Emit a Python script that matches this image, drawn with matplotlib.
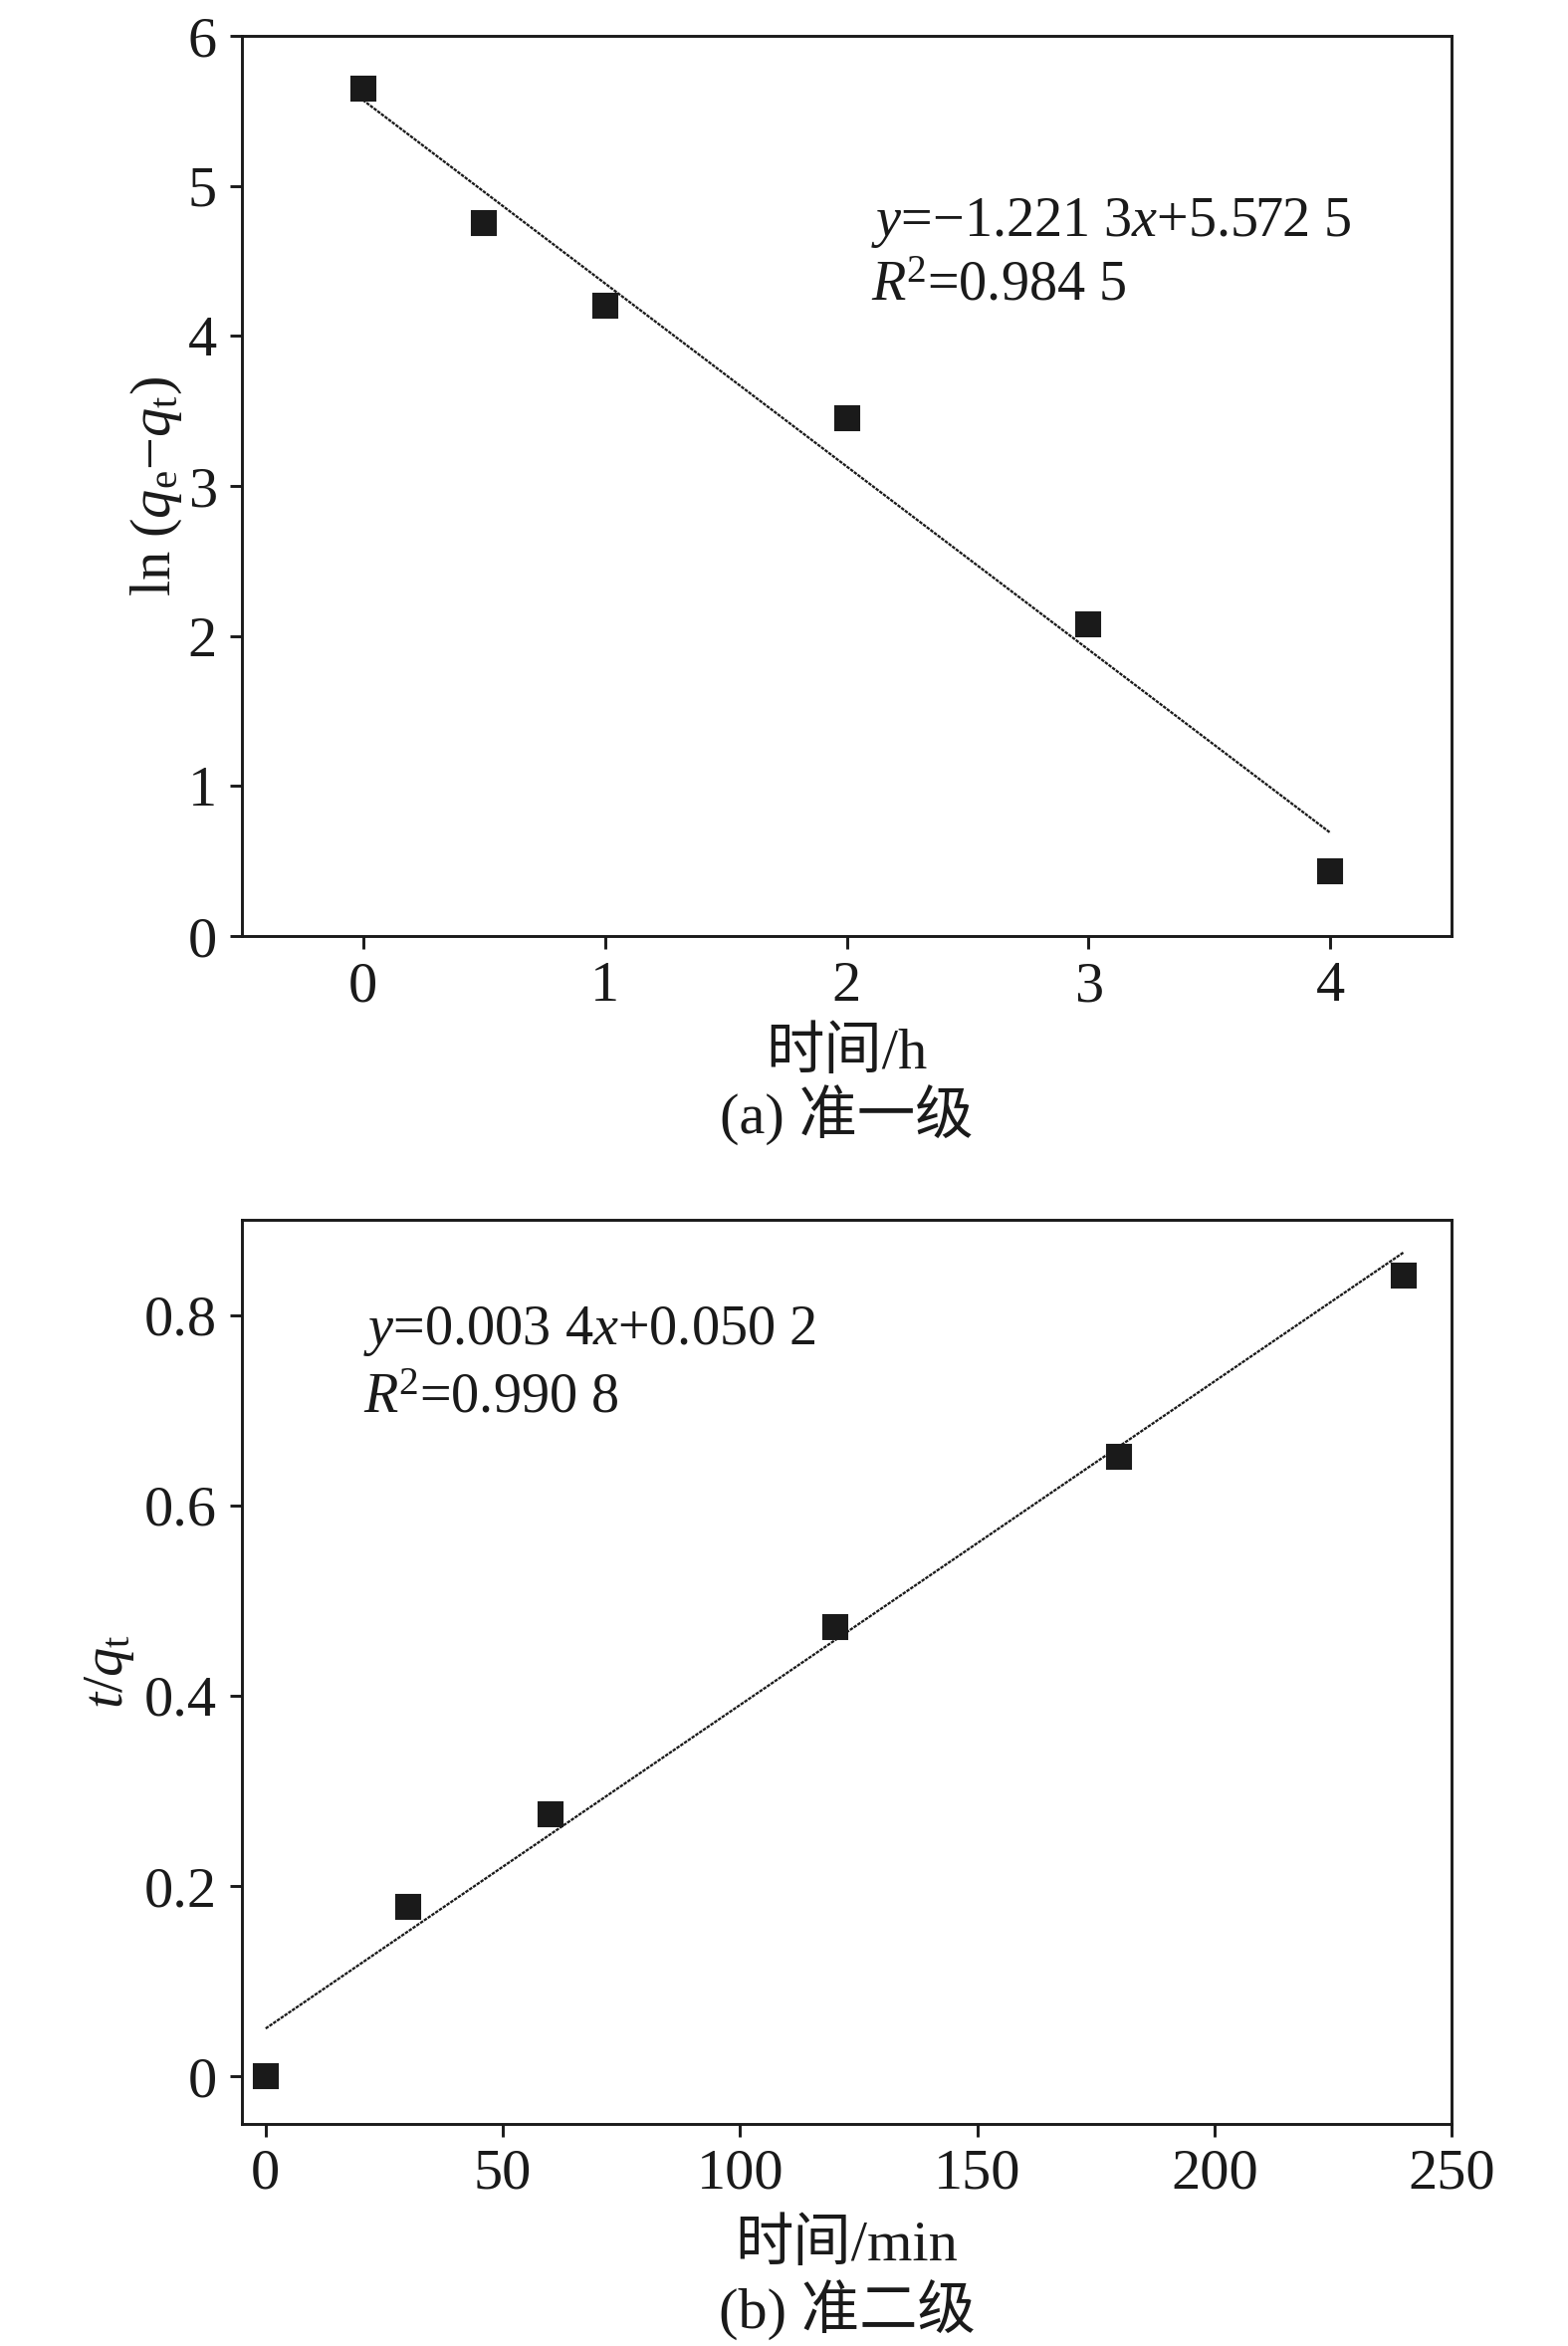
import numpy as np
import matplotlib
matplotlib.use('Agg')
import matplotlib.pyplot as plt

plt.rcParams['font.family'] = ['Liberation Serif', 'Noto Sans CJK SC']
plt.rcParams['mathtext.fontset'] = 'custom'
plt.rcParams['mathtext.rm'] = 'Liberation Serif'
plt.rcParams['mathtext.it'] = 'Liberation Serif:italic'

# (a) pseudo-first-order
t_h = [0, 0.5, 1, 2, 3, 4]
ln_qe_qt = [5.65, 4.75, 4.20, 3.45, 2.08, 0.43]
fit_a = (-1.2213, 5.5725)
fit_a_x = [0, 4]

# (b) pseudo-second-order
t_min = [0, 30, 60, 120, 180, 240]
t_over_qt = [0.0, 0.178, 0.275, 0.472, 0.651, 0.842]
fit_b = (0.0034, 0.0502)
fit_b_x = [0, 240]

FS = 28
C = '#1a1a1a'

fig = plt.figure(figsize=(10.5, 15.7067), dpi=150)
ax1 = fig.add_axes([0.1543, 0.601, 0.7714, 0.3837])
ax2 = fig.add_axes([0.1543, 0.0947, 0.7714, 0.3853])

def style(ax):
    for s in ax.spines.values():
        s.set_linewidth(1.4)
        s.set_color(C)
    ax.tick_params(direction='out', length=6, width=1.4, labelsize=FS, color=C, labelcolor=C, pad=6)

# top panel
x = np.array(fit_a_x)
ax1.plot(x, fit_a[0] * x + fit_a[1], color=C, lw=1.1, ls=(0, (1.5, 0.5)))
ax1.plot(t_h, ln_qe_qt, 's', color=C, ms=11.5, mec=C)
ax1.set_xlim(-0.5, 4.5)
ax1.set_ylim(0, 6)
ax1.set_xticks([0, 1, 2, 3, 4])
ax1.set_yticks([0, 1, 2, 3, 4, 5, 6])
style(ax1)
ax1.set_ylabel(r'$\mathrm{ln}\ (q_\mathrm{e}$−$q_\mathrm{t})$', fontsize=FS, color=C, labelpad=2)
ax1.text(2.1, 4.75, r'$y$=−1.221 3$x$+5.572 5', fontsize=27, color=C, va='center', ha='left')
ax1.text(2.1, 4.33, r'$R$$^2$=0.984 5', fontsize=27, color=C, va='center', ha='left')

# bottom panel
x = np.array(fit_b_x)
ax2.plot(x, fit_b[0] * x + fit_b[1], color=C, lw=1.1, ls=(0, (1.5, 0.5)))
ax2.plot(t_min, t_over_qt, 's', color=C, ms=11.5, mec=C)
ax2.set_xlim(-5, 250)
ax2.set_ylim(-0.05, 0.9)
ax2.set_xticks([0, 50, 100, 150, 200, 250])
ax2.set_yticks([0, 0.2, 0.4, 0.6, 0.8])
ax2.set_yticklabels(['0', '0.2', '0.4', '0.6', '0.8'])
style(ax2)
ax2.set_ylabel(r'$t/q_\mathrm{t}$', fontsize=FS, color=C, labelpad=4)
ax2.text(20.6, 0.783, r'$y$=0.003 4$x$+0.050 2', fontsize=27, color=C, va='center', ha='left')
ax2.text(20.6, 0.712, r'$R$$^2$=0.990 8', fontsize=27, color=C, va='center', ha='left')

cx = 0.1543 + 0.7714 / 2
fig.text(cx, 1 - 1058 / 2356, '时间/h', fontsize=FS, color=C, ha='center', va='center')
fig.text(cx, 1 - 1120 / 2356, '(a) 准一级', fontsize=FS, color=C, ha='center', va='center')
fig.text(cx, 1 - 2255 / 2356, '时间/min', fontsize=FS, color=C, ha='center', va='center')
fig.text(cx, 1 - 2320 / 2356, '(b) 准二级', fontsize=FS, color=C, ha='center', va='center')

fig.savefig('out.png', dpi=150, facecolor='white')
